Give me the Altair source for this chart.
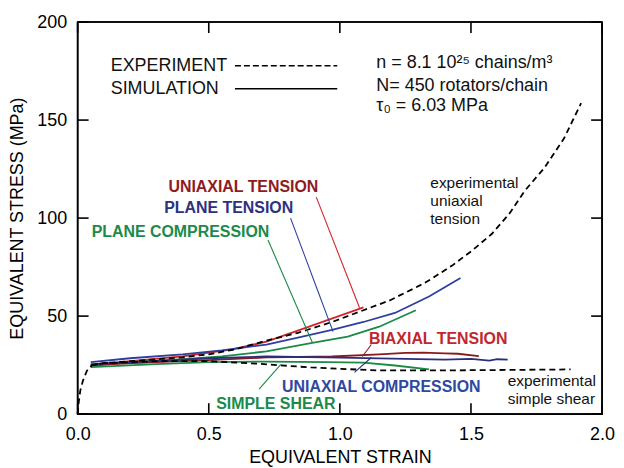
import altair as alt
import pandas as pd

FONT = "Liberation Sans"

# ---------------- data ----------------
exp_ut_x = [0, 0.004, 0.01, 0.02, 0.035, 0.055, 0.1, 0.2, 0.3, 0.4, 0.5, 0.6, 0.72, 0.84, 0.97, 1.09, 1.19, 1.318, 1.355, 1.43, 1.505, 1.58, 1.645, 1.705, 1.78, 1.855, 1.92]
exp_ut_y = [0, 6, 12, 17, 22, 25, 26, 27, 28, 29, 30.5, 33, 37.5, 41.5, 47, 53, 58, 66.5, 69.5, 76, 83.5, 92, 102, 113.9, 125.6, 140.7, 158.6]

exp_ss_x = [0.055, 0.1, 0.3, 0.5, 0.68, 0.89, 1.14, 1.39, 1.6, 1.88]
exp_ss_y = [25, 26, 27, 27, 25.8, 23.8, 22.3, 22.3, 22.5, 22.8]

sim_ut_x = [0.05, 0.2, 0.4, 0.59, 0.72, 0.88, 1.09]
sim_ut_y = [25, 27, 29.5, 33, 37, 44.5, 54.5]

sim_pt_x = [0.05, 0.2, 0.4, 0.55, 0.72, 0.84, 0.97, 1.09, 1.21, 1.34, 1.46]
sim_pt_y = [26.5, 28.5, 30.5, 32.5, 35.5, 39, 43, 47, 51.6, 60, 69.4]

sim_pc_x = [0.05, 0.2, 0.4, 0.55, 0.72, 0.9, 1.03, 1.15, 1.29]
sim_pc_y = [24.5, 26.5, 28, 29.5, 32, 36.5, 39.5, 44.6, 53]

sim_bt_x = [0.05, 0.3, 0.5, 0.72, 0.97, 1.15, 1.25, 1.32, 1.4, 1.45, 1.53]
sim_bt_y = [25, 26.5, 27.5, 28.9, 29.4, 30.5, 31.2, 31.4, 31.0, 30.8, 29.6]

sim_uc_x = [0.05, 0.3, 0.5, 0.72, 0.95, 1.15, 1.4, 1.5, 1.57, 1.6, 1.64]
sim_uc_y = [25.5, 27, 28.5, 29.4, 29, 28.4, 27.8, 28.2, 27.3, 28, 27.8]

sim_ss_x = [0.05, 0.3, 0.5, 0.72, 0.95, 1.09, 1.21, 1.34]
sim_ss_y = [24, 25.5, 26.5, 26.8, 26.5, 26.3, 24.8, 22.8]

exp_names = ["exp_ut", "exp_ss"]
sim_names = ["sim_ut", "sim_pt", "sim_pc", "sim_bt", "sim_uc", "sim_ss"]
sim_colors = ["#d2232a", "#2e3f9e", "#1b8a45", "#8b1a1f", "#2b2e7e", "#1b8a45"]

# curve labels
lab_text = ["UNIAXIAL TENSION", "PLANE TENSION", "PLANE COMPRESSION", "BIAXIAL TENSION", "UNIAXIAL COMPRESSION", "SIMPLE SHEAR"]
lab_x = [0.632, 0.576, 0.392, 1.375, 1.158, 0.756]
lab_y = [115.7, 105, 92.9, 38.1, 13.7, 5.1]
lab_color = ["#8e1b22", "#2e3180", "#1b8a4a", "#c1272d", "#2e49a0", "#1b8a4a"]

# leader lines
lead_x = [0.91, 0.812, 0.726, 1.12, 1.056, 0.692]
lead_y = [110.7, 100, 88.8, 35.5, 21.3, 12.7]
lead_x2 = [1.075, 0.974, 0.895, 1.086, 1.12, 0.775]
lead_y2 = [54.3, 42.1, 36.5, 29.4, 28.9, 25.4]
lead_color = ["#d2232a", "#2e3f9e", "#1b8a45", "#8b1a1f", "#2b2e7e", "#1b8a45"]

# plain annotations
note_text = ["EXPERIMENT", "SIMULATION", "n = 8.1 10²⁵ chains/m³", "N= 450 rotators/chain", "τ₀ = 6.03 MPa",
             "experimental", "uniaxial", "tension", "experimental", "simple shear"]
note_x = [0.126, 0.126, 1.139, 1.139, 1.139, 1.345, 1.345, 1.345, 1.64, 1.64]
note_y = [177.7, 166.0, 179.2, 167.5, 157.4, 117.8, 108.6, 99.5, 16.8, 7.6]
note_size = [18, 18, 18, 18, 18, 15.5, 15.5, 15.5, 15.5, 15.5]

# legend sample lines
leg_x = [0.6]
leg_x2 = [0.99]
leg_y_dash = [177.7]
leg_y_solid = [166.0]

x_ticks = [0.0, 0.5, 1.0, 1.5, 2.0]
y_ticks = [0, 50, 100, 150, 200]
x_domain = [0, 2]
y_domain = [0, 200]

# ---------------- build tables ----------------
def series_table(names, xs_list, ys_list, colors):
    rows = []
    for name, xs, ys, c in zip(names, xs_list, ys_list, colors):
        for i, (a, b) in enumerate(zip(xs, ys)):
            rows.append({"series": name, "x": a, "y": b, "o": i, "c": c})
    return pd.DataFrame(rows)

exp_df = series_table(exp_names, [exp_ut_x, exp_ss_x], [exp_ut_y, exp_ss_y], ["#000000", "#000000"])
sim_df = series_table(sim_names, [sim_ut_x, sim_pt_x, sim_pc_x, sim_bt_x, sim_uc_x, sim_ss_x],
                      [sim_ut_y, sim_pt_y, sim_pc_y, sim_bt_y, sim_uc_y, sim_ss_y], sim_colors)

W, H, TICK = 527, 394, 11
tx = TICK * (x_domain[1] - x_domain[0]) / W
ty = TICK * (y_domain[1] - y_domain[0]) / H
x0, x1 = x_domain
y0, y1 = y_domain

frame_rows = [
    {"x": x0, "y": y0, "x2": x1, "y2": y0},
    {"x": x0, "y": y1, "x2": x1, "y2": y1},
    {"x": x0, "y": y0, "x2": x0, "y2": y1},
    {"x": x1, "y": y0, "x2": x1, "y2": y1},
]
for v in x_ticks:
    frame_rows.append({"x": v, "y": y0, "x2": v, "y2": y0 + ty})
    frame_rows.append({"x": v, "y": y1, "x2": v, "y2": y1 - ty})
for v in y_ticks:
    frame_rows.append({"x": x0, "y": v, "x2": x0 + tx, "y2": v})
    frame_rows.append({"x": x1, "y": v, "x2": x1 - tx, "y2": v})
frame_df = pd.DataFrame(frame_rows)
frame_df["c"] = "#000000"

labels_df = pd.DataFrame({"t": lab_text, "x": lab_x, "y": lab_y, "c": lab_color})
lead_df = pd.DataFrame({"x": lead_x, "y": lead_y, "x2": lead_x2, "y2": lead_y2, "c": lead_color})
notes_df = pd.DataFrame({"t": note_text, "x": note_x, "y": note_y, "s": note_size})
leg_dash_df = pd.DataFrame({"x": leg_x, "x2": leg_x2, "y": leg_y_dash})
leg_solid_df = pd.DataFrame({"x": leg_x, "x2": leg_x2, "y": leg_y_solid})

xscale = alt.Scale(domain=x_domain, nice=False, zero=False)
yscale = alt.Scale(domain=y_domain, nice=False)

x_bottom = alt.Axis(values=x_ticks, format=".1f", title="EQUIVALENT STRAIN", orient="bottom",
                    ticks=False, domain=False, grid=False, labelFlush=False, labelPadding=11,
                    labelFont=FONT, labelFontSize=18, labelColor="black",
                    titleFont=FONT, titleFontSize=18, titleFontWeight="normal",
                    titleColor="black", titlePadding=6)
y_left = alt.Axis(values=y_ticks, title="EQUIVALENT STRESS (MPa)", orient="left",
                  ticks=False, domain=False, grid=False, labelFlush=False, labelPadding=11,
                  labelFont=FONT, labelFontSize=18, labelColor="black",
                  titleFont=FONT, titleFontSize=18, titleFontWeight="normal",
                  titleColor="black", titlePadding=10)

NOAX = None

sim_lines = alt.Chart(sim_df).mark_line(strokeWidth=1.8).encode(
    x=alt.X("x:Q", scale=xscale, axis=x_bottom),
    y=alt.Y("y:Q", scale=yscale, axis=y_left),
    order="o:Q",
    detail="series:N",
    color=alt.Color("c:N", scale=None),
)

exp_lines = alt.Chart(exp_df).mark_line(strokeWidth=1.8, strokeDash=[6, 4]).encode(
    x=alt.X("x:Q", axis=NOAX), y=alt.Y("y:Q", axis=NOAX),
    order="o:Q", detail="series:N",
    color=alt.Color("c:N", scale=None),
)

frame = alt.Chart(frame_df).mark_rule(strokeWidth=1.6).encode(
    x=alt.X("x:Q", axis=NOAX), y=alt.Y("y:Q", axis=NOAX), x2="x2:Q", y2="y2:Q",
    color=alt.Color("c:N", scale=None))

leaders = alt.Chart(lead_df).mark_rule(strokeWidth=1.1).encode(
    x=alt.X("x:Q", axis=NOAX), y=alt.Y("y:Q", axis=NOAX), x2="x2:Q", y2="y2:Q",
    color=alt.Color("c:N", scale=None))

curve_labels = alt.Chart(labels_df).mark_text(font=FONT, fontSize=16, fontWeight="bold",
                                              align="center", baseline="middle").encode(
    x=alt.X("x:Q", axis=NOAX), y=alt.Y("y:Q", axis=NOAX), text="t:N", color=alt.Color("c:N", scale=None))

notes = alt.Chart(notes_df).mark_text(font=FONT, align="left", baseline="middle", color="#111111").encode(
    x=alt.X("x:Q", axis=NOAX), y=alt.Y("y:Q", axis=NOAX), text="t:N",
    size=alt.Size("s:Q", scale=None, legend=None))

legend_dash = alt.Chart(leg_dash_df).mark_rule(color="black", strokeWidth=1.6, strokeDash=[6, 3]).encode(
    x=alt.X("x:Q", axis=NOAX), x2="x2:Q", y=alt.Y("y:Q", axis=NOAX))
legend_solid = alt.Chart(leg_solid_df).mark_rule(color="black", strokeWidth=1.6).encode(
    x=alt.X("x:Q", axis=NOAX), x2="x2:Q", y=alt.Y("y:Q", axis=NOAX))

chart = alt.layer(sim_lines, exp_lines, frame, leaders, curve_labels, notes,
                  legend_dash, legend_solid).resolve_axis(x="independent", y="independent").properties(
    width=W, height=H,
    autosize=alt.AutoSizeParams(type="none"),
    padding={"left": 70, "top": 13, "right": 14, "bottom": 52},
).configure_view(stroke="black", strokeWidth=1.6)

chart.save("out.html", embed_options={"renderer": "svg", "actions": False})
